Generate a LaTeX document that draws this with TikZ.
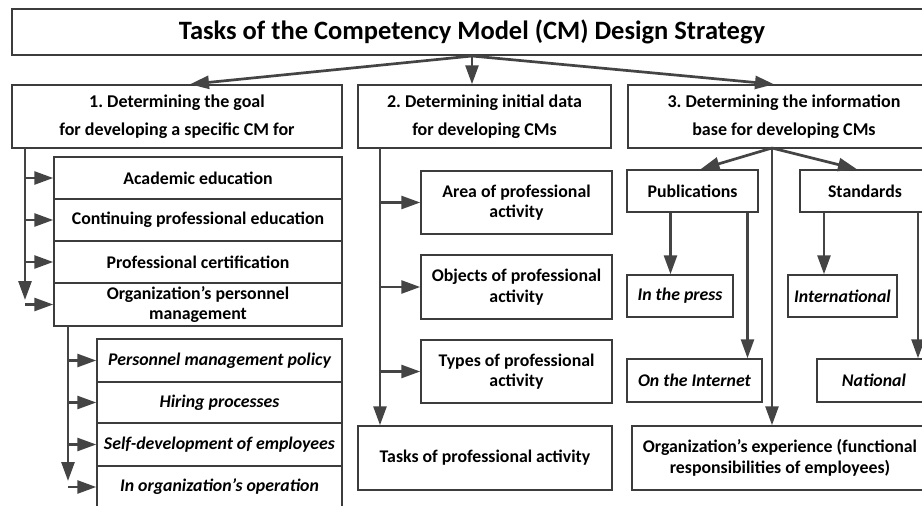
\documentclass[tikz,border=0pt]{standalone}
\usepackage{fontspec}
\setmainfont{Carlito}
\usetikzlibrary{arrows.meta}
\definecolor{edgegray}{HTML}{3C3C3C}
\definecolor{arrowgray}{HTML}{444444}
\frenchspacing
\begin{document}
\begin{tikzpicture}
			[x=1pt,y=-1pt,
			every node/.style={draw=edgegray,line width=1.5pt,align=center,inner sep=0pt,font=\bfseries\fontsize{17.8}{20.5}\selectfont},
			head/.style={font=\bfseries\fontsize{18}{27.5}\selectfont},
			sub/.style={font=\bfseries\itshape\fontsize{17.8}{20.5}\selectfont},
			arr/.style={-{Triangle[length=19pt,width=13pt]},draw=arrowgray,line width=2.7pt}]
			\useasboundingbox[fill=white] (0,0) rectangle (922,506);
			% title and the three tasks
			\node[font=\bfseries\fontsize{26.5}{30}\selectfont,minimum width=920,minimum height=46] (T) at (472,32) {Tasks of the Competency Model (CM) Design Strategy};
			\node[head,minimum width=330,minimum height=63] (G) at (177,116.5) {1. Determining the goal\\for developing a specific CM for};
			\node[head,minimum width=253,minimum height=63] (D) at (484.5,116.5) {2. Determining initial data\\for developing CMs};
			\node[head,minimum width=312,minimum height=63] (I) at (784,116.5) {3. Determining the information\\base for developing CMs};
			% goal
			\node[minimum width=288,minimum height=42] (acad) at (198,178) {Academic education};
			\node[minimum width=288,minimum height=42] (cont) at (198,220) {Continuing professional education};
			\node[minimum width=288,minimum height=42] (cert) at (198,262) {Professional certification};
			\node[minimum width=288,minimum height=43] (orgpm) at (198,304.5) {Organization’s personnel\\management};
			\node[sub,minimum width=245,minimum height=43] (policy) at (219.5,360.5) {Personnel management policy};
			\node[sub,minimum width=245,minimum height=41] (hire) at (219.5,402.5) {Hiring processes};
			\node[sub,minimum width=245,minimum height=43] (self) at (219.5,444.5) {Self-development of employees};
			\node[sub,minimum width=245,minimum height=42] (oper) at (219.5,487) {In organization’s operation};
			% initial data
			\node[minimum width=191,minimum height=63] (area) at (516.5,202.5) {Area of professional\\activity};
			\node[minimum width=191,minimum height=64] (obj) at (516.5,287) {Objects of professional\\activity};
			\node[minimum width=191,minimum height=63] (type) at (516.5,371.5) {Types of professional\\activity};
			\node[minimum width=254,minimum height=64] (tasks) at (485,458) {Tasks of professional activity};
			% information base
			\node[minimum width=131,minimum height=42] (pub) at (692.5,191) {Publications};
			\node[minimum width=130,minimum height=42] (std) at (865,191) {Standards};
			\node[sub,minimum width=106,minimum height=42] (press) at (680,296) {In the press};
			\node[sub,minimum width=135,minimum height=43] (web) at (694.5,380.5) {On the Internet};
			\node[sub,minimum width=109,minimum height=42] (intl) at (842.5,296) {International};
			\node[sub,minimum width=114,minimum height=43] (natl) at (874,380.5) {National};
			\node[minimum width=296,minimum height=64] (exp) at (780,458) {Organization’s experience (functional\\responsibilities of employees)};
			\coordinate (top) at (472,56);
			\coordinate (t1) at (25,148);
			\coordinate (t1end) at (25,300);
			\coordinate (t3) at (68,326);
			\coordinate (t3end) at (68,481);
			\coordinate (t2) at (380,148);
			\coordinate (br) at (772,148);
			\draw[arr] (top) -- ([xshift=13pt]G.north);
			\draw[arr] (top) -- (top |- D.north);
			\draw[arr] (top) -- ([xshift=-10pt]I.north);
			\draw[arr] (t1) -- (t1end);
			\draw[arr] (t1 |- acad.west) -- (acad.west);
			\draw[arr] (t1 |- cont.west) -- (cont.west);
			\draw[arr] (t1 |- cert.west) -- (cert.west);
			\draw[arr] (t1 |- orgpm.west) -- (orgpm.west);
			\draw[arr] (t3) -- (t3end);
			\draw[arr] (t3 |- policy.west) -- (policy.west);
			\draw[arr] (t3 |- hire.west) -- (hire.west);
			\draw[arr] (t3 |- self.west) -- (self.west);
			\draw[arr] (t3 |- oper.west) -- (oper.west);
			\draw[arr] (t2) -- (t2 |- tasks.north);
			\draw[arr] (t2 |- area.west) -- (area.west);
			\draw[arr] (t2 |- obj.west) -- (obj.west);
			\draw[arr] (t2 |- type.west) -- (type.west);
			\draw[arr] (br) -- ([xshift=8pt]pub.north);
			\draw[arr] (br) -- ([xshift=-8pt]std.north);
			\draw[arr] (br) -- (br |- exp.north);
			\draw[arr] ([xshift=-22pt]pub.south) -- ([xshift=-22pt]pub.south |- press.north);
			\draw[arr] ([xshift=55pt]pub.south) -- ([xshift=55pt]pub.south |- web.north);
			\draw[arr] ([xshift=-41pt]std.south) -- ([xshift=-41pt]std.south |- intl.north);
			\draw[arr] ([xshift=53pt]std.south) -- ([xshift=53pt]std.south |- natl.north);
		\end{tikzpicture}
\end{document}
